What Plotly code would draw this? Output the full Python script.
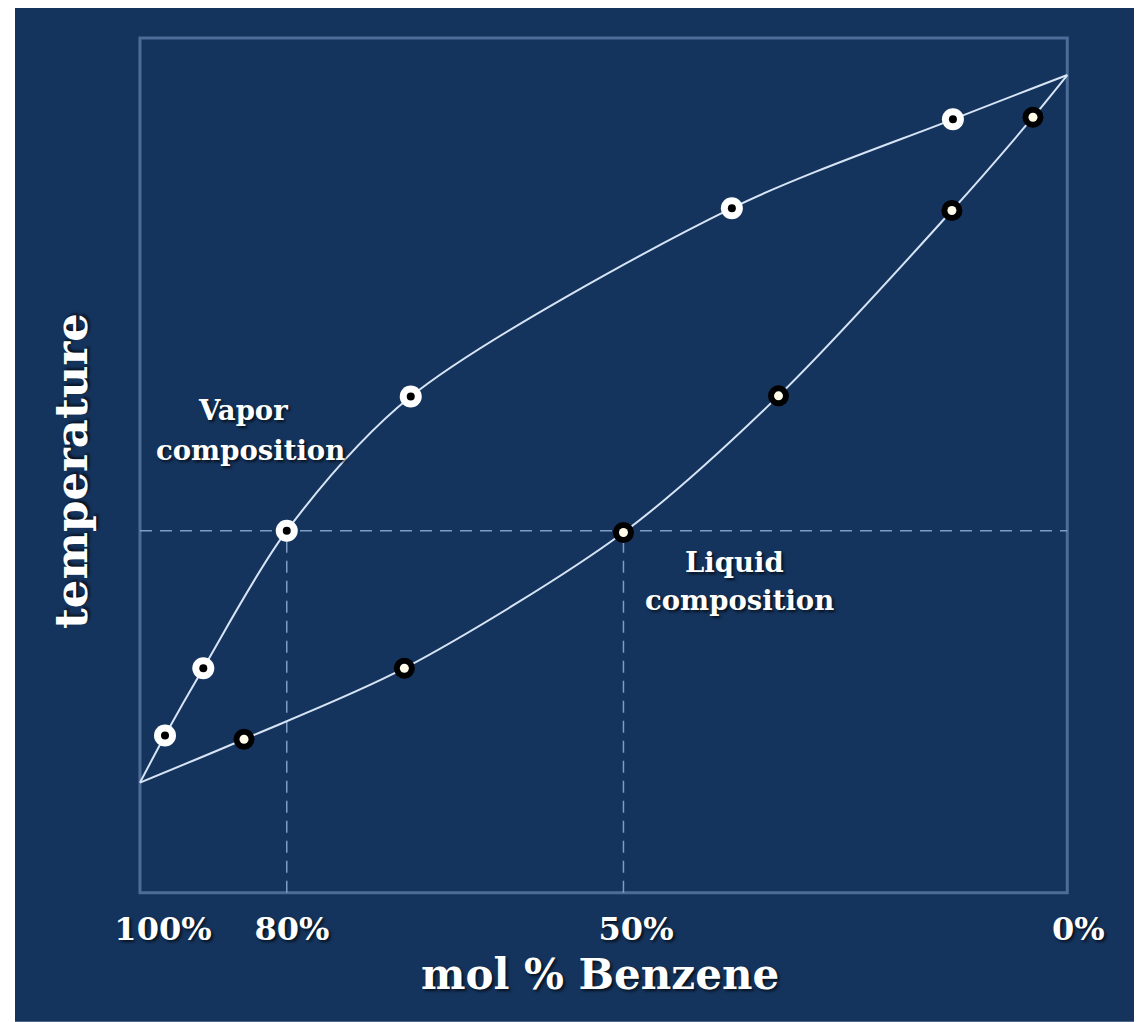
import plotly.graph_objects as go

# ---- data (schematic benzene / toluene boiling-point diagram) ----
# x: mol % benzene (diagram position), y: temperature (deg C, schematic)
pure_x = [100.0, 0.0]          # pure benzene, pure toluene
pure_t = [80.1, 110.6]

vapor_x = [97.30, 93.17, 84.17, 70.80, 36.17, 12.33]
vapor_t = [82.13, 85.03, 90.96, 96.74, 104.86, 108.69]

liquid_x = [88.78, 71.49, 47.86, 31.14, 12.44, 3.70]
liquid_t = [81.97, 85.03, 90.88, 96.77, 104.76, 108.78]

tick_pos = [97.52, 83.6, 46.5, -1.19]
tick_text = ["100%", "80%", "50%", "0%"]

frame_x = [100.0, 0.0]
frame_t = [75.35, 112.20]

x_range = [104.31, -3.53]
t_range = [75.04, 112.54]

# label lines and their anchor positions (diagram units)
label_lines = ["Vapor", "composition", "Liquid", "composition"]
label_x = [88.89, 88.03, 35.92, 35.38]
label_t = [96.16, 94.44, 89.60, 87.96]

x_title = "mol % Benzene"
y_title = "temperature"

# equilibrium pair highlighted with dashed lines
pair_idx_vapor = 2
pair_idx_liquid = 2

NAVY = "#15345d"
FRAME = "#4d6d99"
CURVE = "#d6e4f5"
DASH = "#7f9cc4"
FONT = "DejaVu Serif"
SHADOW = "2px 2px 3px rgba(0,0,0,0.7)"

fig = go.Figure()

# curves
vx = [pure_x[0]] + vapor_x + [pure_x[1]]
vt = [pure_t[0]] + vapor_t + [pure_t[1]]
lx = [pure_x[0]] + liquid_x + [pure_x[1]]
lt = [pure_t[0]] + liquid_t + [pure_t[1]]

fig.add_trace(go.Scatter(x=vx, y=vt, mode="lines",
                         line=dict(color=CURVE, width=2, shape="spline", smoothing=0.85),
                         hoverinfo="skip", showlegend=False))
fig.add_trace(go.Scatter(x=lx, y=lt, mode="lines",
                         line=dict(color=CURVE, width=2, shape="spline", smoothing=0.85),
                         hoverinfo="skip", showlegend=False))

# vapor markers: white disc with black centre
fig.add_trace(go.Scatter(x=vapor_x, y=vapor_t, mode="markers",
                         marker=dict(color="white", size=22, line=dict(width=0)),
                         showlegend=False, name="Vapor"))
fig.add_trace(go.Scatter(x=vapor_x, y=vapor_t, mode="markers",
                         marker=dict(color="black", size=8, line=dict(width=0)),
                         showlegend=False, hoverinfo="skip"))
# liquid markers: black disc with white centre
fig.add_trace(go.Scatter(x=liquid_x, y=liquid_t, mode="markers",
                         marker=dict(color="black", size=21, line=dict(width=0)),
                         showlegend=False, name="Liquid"))
fig.add_trace(go.Scatter(x=liquid_x, y=liquid_t, mode="markers",
                         marker=dict(color="#fffbe8", size=9, line=dict(width=0)),
                         showlegend=False, hoverinfo="skip"))

shapes = []
# navy background panel (white edge strips around it)
shapes.append(dict(type="rect", xref="paper", yref="paper",
                   x0=-0.085, x1=1.06, y0=-0.14, y1=1.04,
                   fillcolor=NAVY, line=dict(width=0), layer="below"))
# frame
shapes.append(dict(type="rect", xref="x", yref="y",
                   x0=frame_x[0], x1=frame_x[1], y0=frame_t[0], y1=frame_t[1],
                   line=dict(color=FRAME, width=3), layer="below"))
# dashed equilibrium lines
tie_t = vapor_t[pair_idx_vapor]
shapes.append(dict(type="line", xref="x", yref="y",
                   x0=frame_x[0], x1=frame_x[1], y0=tie_t, y1=tie_t,
                   line=dict(color=DASH, width=1.5, dash="12px,8px"), layer="below"))
shapes.append(dict(type="line", xref="x", yref="y",
                   x0=vapor_x[pair_idx_vapor], x1=vapor_x[pair_idx_vapor],
                   y0=frame_t[0], y1=vapor_t[pair_idx_vapor],
                   line=dict(color=DASH, width=1.5, dash="12px,8px"), layer="below"))
shapes.append(dict(type="line", xref="x", yref="y",
                   x0=liquid_x[pair_idx_liquid], x1=liquid_x[pair_idx_liquid],
                   y0=frame_t[0], y1=liquid_t[pair_idx_liquid],
                   line=dict(color=DASH, width=1.5, dash="12px,8px"), layer="below"))

annotations = [
    dict(x=lx_, y=lt_, xref="x", yref="y", text=f"<b>{txt}</b>",
         showarrow=False, align="center",
         font=dict(family=FONT, size=27.5, color="white", shadow=SHADOW))
    for lx_, lt_, txt in zip(label_x, label_t, label_lines)
]
# rotated y-axis title
annotations.append(dict(x=-0.029, y=0.4931, xref="paper", yref="paper",
                        text=f"<b>{y_title}</b>", textangle=-90, showarrow=False,
                        xanchor="center", yanchor="middle",
                        font=dict(family=FONT, size=45, color="white", shadow=SHADOW)))
# x-axis title
annotations.append(dict(x=0.5, y=-0.0862, xref="paper", yref="paper",
                        text=f"<b>{x_title}</b>", showarrow=False,
                        xanchor="center", yanchor="middle",
                        font=dict(family=FONT, size=42, color="white", shadow=SHADOW)))

# the page body adds an 8px margin, so the figure is 8px smaller than the window
fig.update_layout(
    width=1134, height=1014,
    margin=dict(l=92, r=42, t=22, b=122),
    paper_bgcolor="white",
    plot_bgcolor="rgba(0,0,0,0)",
    shapes=shapes,
    annotations=annotations,
    showlegend=False,
    xaxis=dict(range=x_range, showgrid=False, zeroline=False, showline=False,
               tickmode="array", tickvals=tick_pos, ticktext=[f"<b>{t}</b>" for t in tick_text],
               ticks="", ticklabelstandoff=7,
               tickfont=dict(family=FONT, size=32, color="white", shadow=SHADOW)),
    yaxis=dict(range=t_range, showgrid=False, zeroline=False, showline=False,
               showticklabels=False, ticks=""),
)

fig.write_html("out.html")
